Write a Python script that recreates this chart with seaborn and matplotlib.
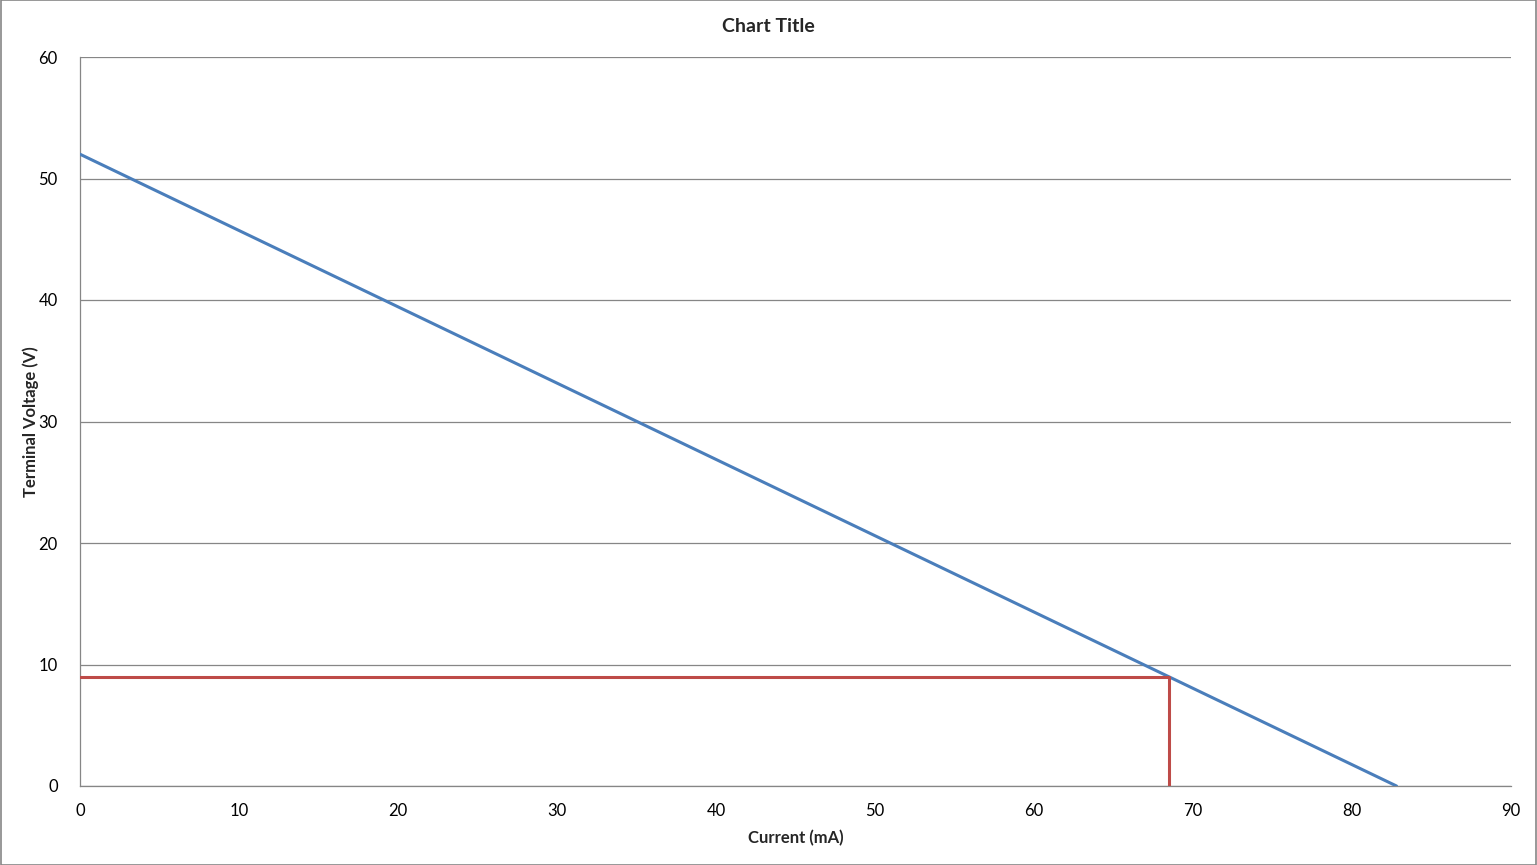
import matplotlib.pyplot as plt
import seaborn as sns
import pandas as pd

# dados
corrente_linha = [0, 82.8]
tensao_linha = [52, 0]

corrente_ponto = [0, 68.5, 68.5]
tensao_ponto = [9, 9, 0]

x_ticks = [0, 10, 20, 30, 40, 50, 60, 70, 80, 90]
y_ticks = [0, 10, 20, 30, 40, 50, 60]

sns.set_style("white")
plt.rcParams['font.family'] = ['Lato', 'DejaVu Sans']

fig = plt.figure(figsize=(15.37, 8.65), dpi=100)
ax = fig.add_axes([80 / 1537, 1 - 786 / 865, 1431 / 1537, 729 / 865])

df_linha = pd.DataFrame({"Corrente": corrente_linha, "Tensao": tensao_linha})
df_ponto = pd.DataFrame({"Corrente": corrente_ponto, "Tensao": tensao_ponto})

sns.lineplot(data=df_linha, x="Corrente", y="Tensao", color="#4A7EBB",
             linewidth=2.2, ax=ax, zorder=3)
sns.lineplot(data=df_ponto, x="Corrente", y="Tensao", color="#BE4B48",
             linewidth=2.2, ax=ax, sort=False, estimator=None, zorder=4)

ax.set_xlim(0, 90)
ax.set_ylim(0, 60)
ax.set_xticks(x_ticks)
ax.set_yticks(y_ticks)
ax.tick_params(axis="both", length=0, labelsize=12, colors="black")
ax.tick_params(axis="x", pad=12)
ax.tick_params(axis="y", pad=16)

ax.grid(axis="y", color="#868686", linewidth=0.9)
ax.grid(axis="x", visible=False)
for lado in ["top", "right"]:
    ax.spines[lado].set_visible(False)
for lado in ["left", "bottom"]:
    ax.spines[lado].set_color("#868686")
    ax.spines[lado].set_linewidth(0.9)

ax.set_xlabel("Current (mA)", fontsize=12, fontweight="bold", labelpad=8)
ax.set_ylabel("Terminal Voltage (V)", fontsize=12, fontweight="bold", labelpad=0)
fig.suptitle("Chart Title", fontsize=14, fontweight="bold", y=0.979)

# moldura externa
fig.patches.append(plt.Rectangle((0.0005, 0.0005), 0.999, 0.999, transform=fig.transFigure,
                                 fill=False, edgecolor="#868686", linewidth=1.2))

fig.savefig("out.png", dpi=100)
